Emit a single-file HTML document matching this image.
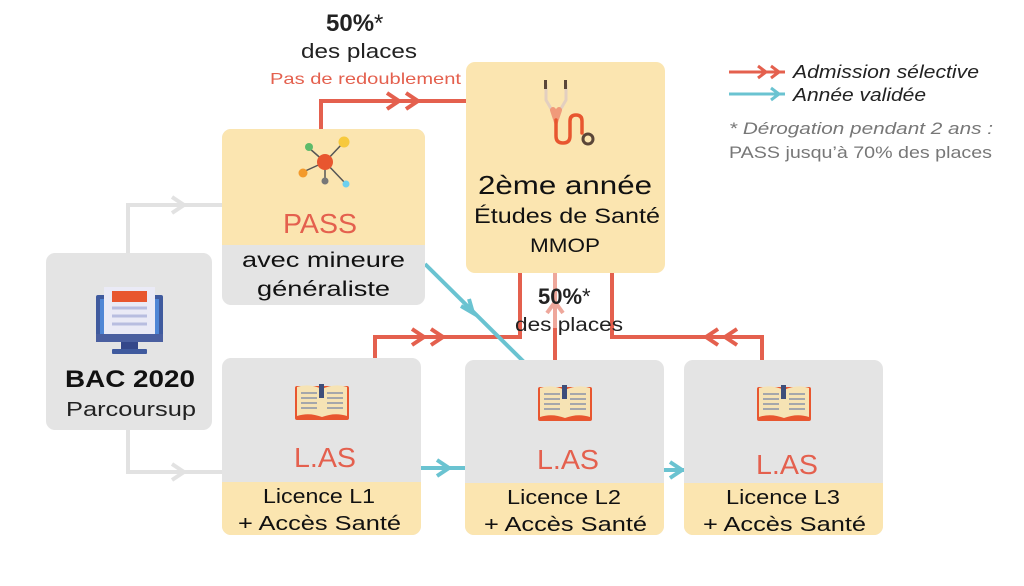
<!DOCTYPE html>
<html><head><meta charset="utf-8">
<style>
html,body{margin:0;padding:0;background:#fff;width:1024px;height:586px;overflow:hidden}
svg{display:block}
text{font-family:"Liberation Sans",sans-serif}
</style></head><body>
<svg width="1024" height="586" viewBox="0 0 1024 586" xmlns="http://www.w3.org/2000/svg">
<defs>
<clipPath id="cp1"><rect x="222" y="129" width="203" height="176" rx="9"/></clipPath>
<clipPath id="c1"><rect x="222" y="358" width="199" height="177" rx="9"/></clipPath>
<clipPath id="c2"><rect x="465" y="360" width="199" height="175" rx="9"/></clipPath>
<clipPath id="c3"><rect x="684" y="360" width="199" height="175" rx="9"/></clipPath>
<g id="book">
<rect x="-27" y="-18" width="54" height="34" rx="2" fill="#e8562f"/>
<path d="M-25,-17 Q-13,-21 0,-15 L0,13 Q-13,8 -25,12 Z" fill="#f6e3b4"/>
<path d="M25,-17 Q13,-21 0,-15 L0,13 Q13,8 25,12 Z" fill="#f6e3b4"/>
<g stroke="#8a93a8" stroke-width="1.5">
<line x1="-21" y1="-11" x2="-5" y2="-11"/><line x1="-21" y1="-6" x2="-5" y2="-6"/><line x1="-21" y1="-1" x2="-5" y2="-1"/><line x1="-21" y1="4" x2="-5" y2="4"/>
<line x1="5" y1="-11" x2="21" y2="-11"/><line x1="5" y1="-6" x2="21" y2="-6"/><line x1="5" y1="-1" x2="21" y2="-1"/><line x1="5" y1="4" x2="21" y2="4"/>
</g>
<rect x="-3" y="-20" width="5" height="14" fill="#3e4e7a"/>
</g>
</defs>

<g stroke="#e2e2e2" stroke-width="4" fill="none">
<polyline points="128,253 128,205 222,205"/>
<polyline points="128,430 128,472 222,472"/>
<polyline points="172,197 184,205 172,213"/>
<polyline points="172,464 184,472 172,480"/>
</g>

<g stroke="#e4604e" stroke-width="4" fill="none">
<polyline points="321,129 321,101 466,101"/>
<polyline points="387,93 399,101 387,109"/>
<polyline points="406,93 418,101 406,109"/>
<polyline points="375,358 375,337 520,337 520,273"/>
<polyline points="412,329 424,337 412,345"/>
<polyline points="431,329 443,337 431,345"/>
<polyline points="612,273 612,337 762,337 762,360"/>
<polyline points="718,329 706,337 718,345"/>
<polyline points="737,329 725,337 737,345"/>
</g>
<g stroke="#eea79b" stroke-width="4" fill="none">
<line x1="555" y1="360" x2="555" y2="273"/>
<polyline points="547,313 555,302 563,313"/>
</g>
<line x1="555" y1="360" x2="555" y2="328" stroke="#e4604e" stroke-width="4"/>

<g stroke="#6ac3d1" stroke-width="4" fill="none">
<line x1="425" y1="264" x2="524" y2="362"/>
<polyline points="461,306 473,313 469,299"/>
<line x1="421" y1="468" x2="465" y2="468"/>
<polyline points="437,460 449,468 437,476"/>
<line x1="664" y1="470" x2="684" y2="470"/>
<polyline points="670,462 682,470 670,478"/>
</g>

<rect x="46" y="253" width="166" height="177" rx="9" fill="#e4e4e4"/>
<rect x="96" y="295" width="67" height="47" rx="2" fill="#3f5a9e"/>
<rect x="100" y="299" width="59" height="38" fill="#4f86d6"/>
<rect x="104" y="287" width="51" height="47" fill="#eaeaf6"/>
<rect x="112" y="291" width="35" height="11" fill="#e8562f"/>
<g stroke="#b8bde0" stroke-width="3"><line x1="112" y1="308" x2="147" y2="308"/><line x1="112" y1="316" x2="147" y2="316"/><line x1="112" y1="324" x2="147" y2="324"/></g>
<rect x="96" y="334" width="67" height="8" fill="#4a5fa0"/>
<rect x="121" y="342" width="17" height="8" fill="#34478a"/>
<rect x="112" y="349" width="35" height="5" rx="1" fill="#3f5a9e"/>
<text x="65" y="387" textLength="130" lengthAdjust="spacingAndGlyphs" font-size="24" font-weight="bold" fill="#111">BAC 2020</text>
<text x="66" y="416" textLength="130" lengthAdjust="spacingAndGlyphs" font-size="20" fill="#222">Parcoursup</text>

<g clip-path="url(#cp1)">
<rect x="222" y="129" width="203" height="176" fill="#e4e4e4"/>
<rect x="222" y="129" width="203" height="116" fill="#fbe5b0"/>
</g>
<g stroke="#555" stroke-width="1.5">
<line x1="325" y1="162" x2="343" y2="143"/><line x1="325" y1="162" x2="309" y2="148"/><line x1="325" y1="162" x2="303" y2="172"/><line x1="325" y1="162" x2="325" y2="180"/><line x1="325" y1="162" x2="346" y2="184"/>
</g>
<circle cx="325" cy="162" r="8" fill="#e8562f"/>
<circle cx="344" cy="142" r="5.5" fill="#f7c93c"/>
<circle cx="309" cy="147" r="4" fill="#5dbb6a"/>
<circle cx="303" cy="173" r="4.5" fill="#f39a2c"/>
<circle cx="325" cy="181" r="3.5" fill="#777"/>
<circle cx="346" cy="184" r="3.5" fill="#6cd0ef"/>
<text x="283" y="233" textLength="74" lengthAdjust="spacingAndGlyphs" font-size="28" fill="#e4604e">PASS</text>
<text x="242" y="267" textLength="163" lengthAdjust="spacingAndGlyphs" font-size="21" fill="#111">avec mineure</text>
<text x="257" y="296" textLength="133" lengthAdjust="spacingAndGlyphs" font-size="21" fill="#111">généraliste</text>

<rect x="466" y="62" width="199" height="211" rx="9" fill="#fbe5b0"/>
<g fill="none" stroke-linecap="round">
<path d="M546,85 L546,100 L553,112" stroke="#e3cfc0" stroke-width="3"/>
<path d="M566,85 L566,100 L559,112" stroke="#e3cfc0" stroke-width="3"/>
<path d="M553,110 L556,119 L559,110" stroke="#f09a7a" stroke-width="6"/>
<path d="M556,120 L556,136 Q556,143 563,143 Q570,143 570,136 L570,121 Q570,115 576,115 Q582,115 582,121 L582,133" stroke="#e8562f" stroke-width="3.5"/>
</g>
<rect x="544" y="80" width="3" height="9" fill="#5a4638"/>
<rect x="564" y="80" width="3" height="9" fill="#5a4638"/>
<circle cx="588" cy="139" r="5" fill="#fbe5b0" stroke="#5a4638" stroke-width="3"/>
<text x="478" y="194" textLength="174" lengthAdjust="spacingAndGlyphs" font-size="26" fill="#111">2ème année</text>
<text x="474" y="223" textLength="186" lengthAdjust="spacingAndGlyphs" font-size="21" fill="#111">Études de Santé</text>
<text x="530" y="252" textLength="70" lengthAdjust="spacingAndGlyphs" font-size="19" fill="#111">MMOP</text>

<g clip-path="url(#c1)"><rect x="222" y="358" width="199" height="177" fill="#e4e4e4"/><rect x="222" y="482" width="199" height="53" fill="#fbe5b0"/></g>
<g clip-path="url(#c2)"><rect x="465" y="360" width="199" height="175" fill="#e4e4e4"/><rect x="465" y="483" width="199" height="52" fill="#fbe5b0"/></g>
<g clip-path="url(#c3)"><rect x="684" y="360" width="199" height="175" fill="#e4e4e4"/><rect x="684" y="483" width="199" height="52" fill="#fbe5b0"/></g>
<use href="#book" x="322" y="404"/>
<use href="#book" x="565" y="405"/>
<use href="#book" x="784" y="405"/>
<text x="294" y="467" textLength="62" lengthAdjust="spacingAndGlyphs" font-size="28" fill="#e4604e">L.AS</text>
<text x="537" y="469" textLength="62" lengthAdjust="spacingAndGlyphs" font-size="28" fill="#e4604e">L.AS</text>
<text x="756" y="474" textLength="62" lengthAdjust="spacingAndGlyphs" font-size="28" fill="#e4604e">L.AS</text>
<g font-size="20" fill="#111">
<text x="263" y="503" textLength="112" lengthAdjust="spacingAndGlyphs">Licence L1</text>
<text x="238" y="530" textLength="163" lengthAdjust="spacingAndGlyphs">+ Accès Santé</text>
<text x="507" y="504" textLength="114" lengthAdjust="spacingAndGlyphs">Licence L2</text>
<text x="484" y="531" textLength="163" lengthAdjust="spacingAndGlyphs">+ Accès Santé</text>
<text x="726" y="504" textLength="114" lengthAdjust="spacingAndGlyphs">Licence L3</text>
<text x="703" y="531" textLength="163" lengthAdjust="spacingAndGlyphs">+ Accès Santé</text>
</g>

<text x="326" y="31" font-size="24" font-weight="bold" fill="#222">50%<tspan font-weight="normal">*</tspan></text>
<text x="301" y="58" textLength="116" lengthAdjust="spacingAndGlyphs" font-size="20" fill="#222">des places</text>
<text x="270" y="84" textLength="191" lengthAdjust="spacingAndGlyphs" font-size="16" fill="#e4604e">Pas de redoublement</text>
<text x="538" y="304" font-size="22" font-weight="bold" fill="#222">50%<tspan font-weight="normal">*</tspan></text>
<text x="515" y="331" textLength="108" lengthAdjust="spacingAndGlyphs" font-size="19" fill="#222">des places</text>

<g stroke="#e4604e" stroke-width="3" fill="none">
<line x1="729" y1="72" x2="785" y2="72"/><polyline points="758,66 766,72 758,78"/><polyline points="771,66 779,72 771,78"/>
</g>
<g stroke="#6ac3d1" stroke-width="3" fill="none">
<line x1="729" y1="94" x2="785" y2="94"/><polyline points="771,88 779,94 771,100"/>
</g>
<text x="793" y="78" textLength="186" lengthAdjust="spacingAndGlyphs" font-size="18" font-style="italic" fill="#222">Admission sélective</text>
<text x="793" y="101" textLength="133" lengthAdjust="spacingAndGlyphs" font-size="18" font-style="italic" fill="#222">Année validée</text>
<text x="729" y="134" textLength="264" lengthAdjust="spacingAndGlyphs" font-size="17" font-style="italic" fill="#777">* Dérogation pendant 2 ans :</text>
<text x="729" y="158" textLength="263" lengthAdjust="spacingAndGlyphs" font-size="17" fill="#777">PASS jusqu’à 70% des places</text>
</svg>
</body></html>
